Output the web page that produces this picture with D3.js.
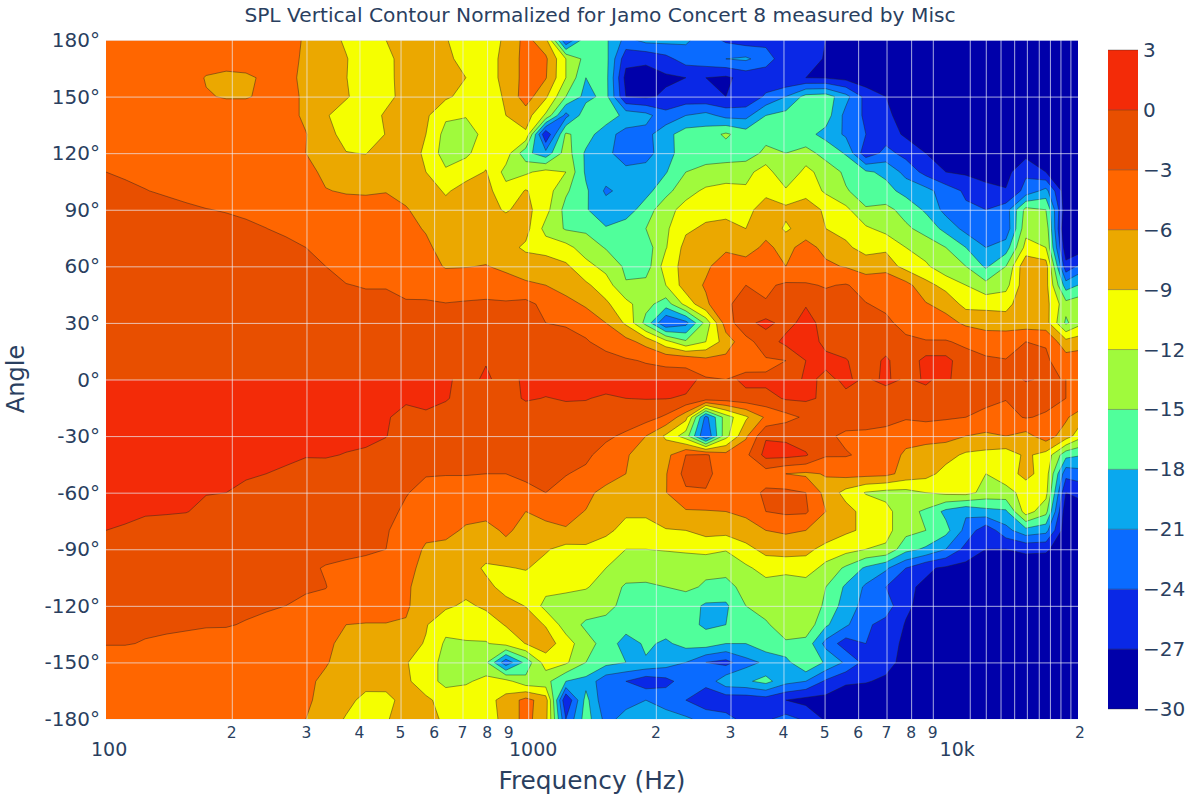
<!DOCTYPE html>
<html>
<meta charset="utf-8">
<title>SPL Vertical Contour</title>
<style>
body { margin: 0; background: #fff; }
text { font-family: "DejaVu Sans", Verdana, sans-serif; fill: #2a3f5f; }
.grid line { stroke: #ebf0f8; stroke-opacity: 0.7; stroke-width: 1px; }
.grid .domain { display: none; }
.band { stroke: #222; stroke-opacity: 0.75; stroke-width: 0.6px; fill-rule: evenodd; }
</style>
<script src="https://d3js.org/d3.v7.min.js"></script>
<body>
<script>
const title = "SPL Vertical Contour Normalized for Jamo Concert 8 measured by Misc";

// sampled frequencies (columns of both tables below)
const freqs = [101,112,125,140,156,174,194,216,241,268,299,333,372,414,462,515,574,639,713,795,886,987,1100,1227,1368,1525,1700,1895,2112,2354,2624,2926,3261,3635,4052,4517,5035,5613,6257,6975,7775,8667,9662,10771,12006,13384,14920,16632,18540,20667];

const anglesUpper = [180,170,160,150,140,130,120,110,100,90,80,70,60,50,40,30,20,10,0];
const anglesLower = [0,-10,-20,-30,-40,-50,-60,-70,-80,-90,-100,-110,-120,-130,-140,-150,-160,-170,-180];

// dB, one row per angle
const splUpper = [
[-4.5,-4.5,-4.5,-4.5,-4.5,-4.5,-4.5,-4.5,-4.5,-5,-6.3,-7.5,-9.5,-11,-9,-8,-8,-8.8,-10.5,-10.5,-8.5,-5,-8,-24,-16,-17.5,-22,-20,-20,-20.5,-22.5,-24.5,-25.5,-25,-26,-25.5,-27,-28,-28.5,-29,-29,-29,-29,-29,-29,-29,-29,-29,-29,-29],
[-4.5,-4.5,-4.5,-4.5,-4.5,-4.5,-4.5,-4.5,-4.5,-5,-6.5,-7.5,-8.8,-11,-9.8,-7.8,-8,-8,-10.5,-10.5,-8,-5,-5.5,-12,-16,-17,-26,-26.5,-25,-22.5,-22,-21,-20.5,-22.5,-26,-24.5,-27.5,-28,-29,-29,-29,-29,-29,-29,-29,-29,-29,-29,-29,-29],
[-4.5,-4.5,-4.5,-4.5,-4.5,-6.2,-6.8,-6.5,-5.5,-5.4,-6.5,-7.5,-8.9,-11,-9.7,-8,-8,-7.5,-9,-10.5,-8,-5,-5.8,-12,-18,-17,-28,-28,-27.5,-27,-27,-27.5,-26,-26,-27,-27,-27.2,-28,-29,-29,-29,-29,-29,-29,-29,-29,-29,-29,-29,-29],
[-4.5,-4.5,-4.5,-4.5,-4.5,-5.8,-6.2,-6.2,-5.5,-5.2,-6.4,-7.5,-8.7,-10.5,-10,-7.8,-7,-8.5,-10,-11,-8.5,-4.5,-8.5,-15,-19,-17,-27,-27.5,-26.5,-26,-26.5,-27,-26.5,-23.5,-21,-17,-16.5,-20,-25,-27,-28.5,-28.5,-28.5,-28.5,-28.5,-28.5,-28.5,-28.5,-28.5,-28.5],
[-4.5,-4.5,-4.5,-4.5,-4.5,-4.5,-4.5,-4.5,-4.5,-5,-6.5,-8.7,-10.5,-10.8,-8.5,-7.5,-8.5,-11.5,-11.8,-11,-9,-7.5,-12.5,-22,-16,-16,-19,-20,-23,-21,-20,-22,-22,-18,-17,-16,-16.5,-22,-24.5,-26.5,-28,-28.5,-28.5,-28.5,-28.5,-28.5,-28.5,-28.5,-28.5,-28.5],
[-4.5,-4.5,-4.5,-4.5,-4.5,-4.5,-4.5,-4.5,-4.5,-5,-5.9,-8,-10,-10.5,-8.9,-7.7,-9,-13,-13.5,-11,-10.5,-9.5,-27,-14.5,-16.5,-20,-22,-22,-19,-16.5,-16.5,-14.5,-16.5,-16,-17,-17,-19,-21.5,-24,-25.5,-27.5,-28,-28,-28,-28,-28,-28,-28,-28,-28],
[-3.8,-4,-4.2,-4.5,-4.5,-4.5,-4.5,-4.5,-4.5,-5,-6,-8,-8.9,-9.1,-7.5,-7.5,-9.5,-13.5,-12.5,-10.5,-10.5,-17,-20,-13.5,-18.5,-20,-23,-22,-19.5,-16,-16.5,-16.5,-16.5,-14.3,-15,-14,-16,-18.3,-26,-23,-25,-27,-27.5,-28,-28,-28,-28,-28,-28,-28],
[-3,-3.2,-3.4,-3.6,-3.8,-4,-4.2,-4.4,-4.6,-5,-5.3,-6.5,-7,-7.2,-7.2,-7.5,-9,-11.5,-10.5,-8.8,-13,-12.5,-11,-12,-18.5,-19.5,-20,-20,-18.2,-15,-14,-13.5,-13,-10.5,-14.8,-11,-13.5,-15.5,-17.5,-18.7,-22,-25,-27,-27.5,-27.6,-28,-24.5,-27,-28.5,-29],
[-2.5,-2.7,-2.95,-3.2,-3.5,-3.7,-3.9,-4.2,-4.5,-4.8,-5.1,-5.9,-6.2,-6.3,-6.1,-6.8,-7,-9.5,-7.5,-8,-11,-8.8,-10.5,-14.5,-17.5,-21.5,-20,-19,-16,-13,-11.5,-11,-11.5,-10,-11.5,-10,-12.5,-14.8,-16,-17,-19,-20,-22.5,-24.5,-26.5,-26.8,-23,-20,-29,-29],
[-2.2,-2.3,-2.4,-2.5,-2.7,-2.95,-3.1,-3.3,-3.5,-3.7,-4,-4.5,-5,-5,-5.1,-5.8,-7,-7.5,-7.5,-8,-9.3,-8,-11,-16,-17.8,-19.5,-19.5,-16.5,-13,-11,-10,-10,-10.2,-7.2,-8.2,-7.5,-9.5,-11.2,-14.8,-14.2,-16,-18.5,-22,-23.5,-24,-22.5,-14,-15,-29,-29],
[-2,-2,-2,-2,-2.1,-2.2,-2.5,-2.7,-2.98,-3.3,-3.8,-4,-4.3,-4.3,-4.5,-5.3,-6.2,-7.5,-7.5,-7.5,-7.5,-8,-13,-15.3,-15.5,-17.8,-16.5,-15,-12.5,-9.5,-8.5,-8,-9,-6.8,-9.5,-7.5,-9,-9.8,-11.5,-13,-14.5,-16,-19,-22,-23,-23,-13,-13,-31,-30],
[-1.8,-1.8,-1.8,-1.8,-1.8,-1.9,-2,-2.1,-2.3,-2.6,-3,-3.6,-4,-4,-4.2,-5,-5.5,-7,-7,-7,-8,-9.5,-10.5,-11,-13.5,-15.2,-16.5,-16.5,-12.2,-8,-7,-6.5,-7,-5.5,-6.8,-5,-6.8,-8.5,-10,-9.5,-12,-13.5,-15,-18,-21,-19.5,-11,-12,-29,-28],
[-1.7,-1.7,-1.7,-1.7,-1.7,-1.8,-1.8,-1.9,-2.1,-2.3,-2.6,-3,-3.5,-3.6,-3.6,-4.2,-5,-6.2,-6.1,-5.9,-6.5,-7.5,-7,-8.5,-11,-13,-15.5,-16.5,-10.5,-8,-6.5,-4.5,-5,-4.5,-6,-5,-5.5,-6.2,-7.5,-7.5,-10,-11.5,-14,-15,-18.5,-15,-6.5,-7.5,-26,-22],
[-1.6,-1.6,-1.6,-1.6,-1.6,-1.6,-1.7,-1.8,-1.9,-2,-2.2,-2.6,-2.95,-3.1,-3.1,-3.6,-4,-4.5,-4.5,-4.5,-5,-5.5,-6,-7.5,-8.5,-10.5,-14.8,-14,-12,-7.5,-5.7,-3.5,-3,-3.5,-2.5,-2.7,-3.2,-2.8,-4,-3,-5,-8,-10,-12,-14,-13,-7,-8,-19.5,-17],
[-1.5,-1.5,-1.5,-1.5,-1.5,-1.5,-1.5,-1.5,-1.6,-1.7,-1.9,-2.1,-2.3,-2.6,-2.6,-2.8,-2.7,-2.9,-2.7,-2.5,-2.6,-2.2,-3.8,-4.8,-6.5,-8.5,-11,-14,-16.5,-11,-6.5,-3.5,-1.8,-2.8,-2,-0.2,-2,-2.4,-2.9,-3.5,-4.5,-5.8,-7,-10,-10,-10,-7,-8,-14,-13],
[-1.5,-1.5,-1.5,-1.5,-1.5,-1.5,-1.5,-1.5,-1.5,-1.5,-1.6,-1.7,-1.8,-2,-2,-2,-1.5,-1.5,-1.5,-1.2,-1.5,-2,-3,-3.2,-3.8,-6,-9.5,-16,-24,-22,-14,-4.5,-0.8,0.8,-1,1,-1,-0.5,-2,-2.5,-3.8,-4.8,-5,-6.5,-7,-7.5,-7.5,-7.8,-15.5,-12],
[-1.5,-1.5,-1.5,-1.5,-1.5,-1.5,-1.5,-1.5,-1.5,-1.5,-1.5,-1.5,-1.5,-1.5,-1.5,-1.5,-1.5,-1.5,-1.5,-1,-1.2,-1.5,-2,-2.3,-2.8,-3.8,-5,-7,-11,-14.5,-12,-7.5,-4,-1.5,0.8,1,-0.5,-1.5,-2,-1.5,-2.5,-2.8,-2.8,-3.5,-4.5,-4,-3,-3.2,-8,-7],
[-1.5,-1.5,-1.5,-1.5,-1.5,-1.5,-1.5,-1.5,-1.5,-1.5,-1.5,-1.5,-1.5,-1.5,-1.5,-1.5,-1.5,-1.4,-1,-0.2,-1.5,-1.8,-1.8,-1.9,-2,-2.2,-2.7,-3.2,-3.5,-3.5,-5,-5.2,-3.8,-3.3,-3,0,0.5,0.2,-1.5,0.5,-2,1,1,-2,-2.5,-2.9,-1,-2.6,-4.5,-4.5],
[-1.5,-1.5,-1.5,-1.5,-1.5,-1.5,-1.5,-1.5,-1.5,-1.5,-1.5,-1.5,-1.5,-1.5,-1.5,-1.5,-1.5,-1.3,-1,0.5,-1.2,-1.5,-1.5,-1.5,-1.5,-1.5,-1.6,-1.8,-2,-2.2,-2.7,-3,-2.5,-2.8,-1.8,0.5,-0.5,0.5,-1,0.5,-1.5,0.5,0.5,-1.5,-1.5,-1.5,0,-1.5,-3.5,-3.5]
];
const splLower = [
[1.5,1.5,1.5,1.5,1.5,1.5,1.5,1.5,1.5,1.5,1.5,1.5,1.5,1.5,1.5,1.5,1,0.5,-1,-0.5,-1,0.5,1,1,1,1,1,1,1,1,-0.8,-1,0.8,0.8,1,1,-0.8,0.5,-0.2,0.5,-0.2,0.5,-1,-1,-1,-1,0.2,-0.3,-3,-3.5],
[1.3,1.3,1.3,1.3,1.3,1.3,1.3,1.3,1.3,1.3,1.3,1.3,1.3,1.3,1.3,0.5,0.8,0.3,-1.3,-1.3,-1,0.3,-0.1,0.2,0.1,-0.3,0,0.1,0.1,-0.3,-1.3,-1.5,-1,-1,0.3,0.5,-0.5,-0.5,-1,-1,-1,-1.2,-1.5,-1.8,-2,-2.9,-1.5,-2,-3,-3.7],
[1,1,1,1,1,1,1,1,1,1,1,1,1,0.8,0.3,-1,-0.5,-1.5,-1.7,-1.7,-1.7,-1.7,-1.7,-1,-0.8,-1,-1.5,-1.8,-3.5,-8,-22,-13.5,-9.5,-5.5,-4,-2.5,-1.5,-1.7,-2,-2.2,-2.7,-2.3,-2.7,-3,-4,-3.8,-2.8,-3.4,-5.5,-9],
[0.8,0.8,0.8,0.8,0.8,0.8,0.8,0.8,0.8,0.8,0.8,0.4,0.6,0.6,0.1,-1.5,-1.8,-2,-2,-2,-2,-2,-2,-2,-2.2,-2.5,-3.5,-6,-9.5,-13.5,-24,-13,-6.5,-0.3,-0.5,-1.5,-2.5,-3.5,-3.5,-3.8,-5,-5.2,-5,-6,-6.5,-6,-7,-4.5,-7.5,-12],
[0.8,1,1,1,1,1,1,1,1,0.4,0.1,0.2,-0.1,-0.4,-1.2,-2,-2.2,-2.4,-2.4,-2.4,-2.4,-2.4,-2.4,-2.4,-2.5,-4,-5.8,-7,-7,-3,-2.6,-5,-3.7,1,1,0.3,-2.7,-2.8,-3.5,-4.5,-6.5,-7,-8,-9.5,-9.9,-10.5,-8.5,-10,-17,-18],
[0.8,0.8,0.7,0.6,0.4,0.3,0.25,0.2,0,-0.3,-0.6,-1,-1.2,-1.4,-1.7,-2.5,-2.9,-2.9,-2.9,-3,-3,-2.4,-2.2,-2.9,-3.5,-4.5,-6,-7,-6.2,-2,-2,-5,-5,-4.5,-6,-6.5,-5.8,-5,-5,-5.2,-7,-8,-10,-10.5,-12,-10.5,-8,-10.5,-23,-22],
[0.5,0.4,0.3,0.2,0.1,0.05,0,-0.4,-0.7,-1,-1.3,-1.4,-1.5,-1.6,-2,-2.9,-3.5,-4,-4,-4.3,-4.2,-3.8,-3,-3.8,-5.2,-7,-7.5,-7.8,-6.1,-3.5,-3.3,-5,-4.3,-2.5,-2.3,-3,-7,-10,-12.2,-13,-13,-12,-11.3,-11,-13,-13,-11,-11,-27,-26],
[0.3,0.2,0.1,0.1,0.05,-0.3,-0.6,-0.8,-1,-1.1,-1.2,-1.3,-1.5,-1.8,-2.5,-3.3,-5,-4.5,-4.8,-5,-5,-6,-5,-5.2,-6.1,-8,-8.5,-8.5,-7,-6.3,-6.2,-6,-5.5,-3,-2.5,-2.6,-6,-8,-10,-11,-14,-15.5,-18.8,-20.5,-19,-18.5,-10.5,-14,-29,-28],
[0,-0.1,-0.3,-0.5,-0.7,-0.9,-1,-1.1,-1.2,-1.3,-1.4,-1.5,-1.7,-2,-2.7,-4.5,-5,-5,-6.5,-7,-5.5,-7,-7,-6.2,-7.5,-8.3,-10,-10,-9.2,-9,-8,-8,-7,-6,-5.5,-6,-7,-8.5,-9.5,-11,-14,-15,-17,-22,-26,-22,-19,-20,-29,-29],
[-1.3,-1.3,-1.3,-1.3,-1.3,-1.3,-1.3,-1.3,-1.3,-1.3,-1.3,-1.5,-2,-2.5,-3,-4,-6.5,-7,-7.2,-7.5,-7,-7.5,-8.7,-10,-9.5,-10.5,-12,-12,-11.8,-11.5,-11,-11.8,-10,-8,-8,-8.2,-10,-11,-12,-12.5,-17,-18.5,-21,-25,-27,-27,-26.5,-26.5,-29,-29],
[-1.3,-1.3,-1.3,-1.3,-1.3,-1.3,-1.3,-1.3,-1.3,-1.7,-2.2,-3.3,-3.8,-4,-4,-5,-7,-7.5,-7.5,-9.5,-9.2,-8.8,-10,-10.5,-11,-12,-13,-13.5,-13.8,-14,-14.5,-14,-12.5,-11,-10.5,-10.5,-13,-15.5,-18.5,-20.5,-24,-26.5,-27.5,-28,-28.5,-28.5,-28.5,-29,-29,-29],
[-1.5,-1.5,-1.6,-1.6,-1.7,-1.7,-1.7,-1.8,-1.8,-2,-2.7,-2.9,-4.5,-4.5,-4.5,-5.5,-7.5,-7.8,-8,-8.2,-10,-10.5,-11,-11.3,-11.8,-13,-15.5,-15.5,-15,-14.5,-15.3,-16,-14,-13,-14.8,-13.5,-15,-18.5,-21.5,-24,-26.5,-27.5,-28,-28.5,-28.5,-29,-29,-29,-29,-29],
[-1.8,-2,-2.1,-2.2,-2.3,-2.3,-2.5,-2.7,-2.8,-3,-3.5,-4,-4.5,-5,-5,-5.5,-8,-8.5,-9.5,-8.5,-8,-9.1,-13,-13.5,-13.5,-14,-16,-16,-18,-16.5,-18.5,-18.5,-15,-13.5,-13.5,-13,-15.5,-19.5,-22,-22.5,-26.5,-28,-28.5,-28.5,-29,-29,-29,-29,-29,-29],
[-2.3,-2.5,-2.7,-2.8,-2.8,-2.9,-2.9,-3.1,-3.4,-3.8,-4.3,-5,-6,-6.1,-6.1,-6.3,-8.8,-11,-11,-10.5,-8.8,-7.5,-9.2,-13.5,-15.5,-16,-16.5,-16.5,-16.5,-17,-18.5,-18,-16,-15.5,-13,-13,-17.5,-20.5,-23.5,-25,-27.2,-29,-29,-29,-29,-29,-29,-29,-29,-29],
[-2.9,-2.9,-3.1,-3.2,-3.4,-3.5,-3.6,-3.8,-4,-4.3,-5,-5.5,-6.7,-7.5,-7.5,-8,-9.2,-12.5,-12.2,-12.2,-11,-8.9,-7.5,-10.5,-14,-16,-19.5,-17.5,-18.5,-17,-16.5,-18,-18,-16,-15.5,-16,-22,-25.5,-24,-26,-27.5,-29,-29,-29,-29,-29,-29,-29,-29,-29],
[-4,-4,-4.1,-4.1,-4.2,-4.2,-4.3,-4.4,-4.5,-4.8,-5.3,-5.8,-7,-7.5,-7.5,-8.8,-10.5,-13,-13.5,-14.5,-23,-17,-10.5,-11.5,-15,-17,-18,-18.3,-19.5,-21,-24,-25,-22,-20.5,-19,-15,-18.5,-21.5,-25,-26,-28,-29,-29,-29,-29,-29,-29,-29,-29,-29],
[-4.5,-4.5,-4.5,-4.5,-4.5,-4.5,-4.5,-4.5,-4.5,-5,-5.5,-6.5,-7.5,-7.8,-8,-8.5,-10.5,-13,-12.5,-11,-11,-14,-14,-18,-19,-23,-24,-26,-25,-22.5,-23,-19,-18.5,-17,-20,-21,-24.5,-26.5,-26.8,-27.5,-29,-29,-29,-29,-29,-29,-29,-29,-29,-29],
[-4.5,-4.5,-4.5,-4.5,-4.5,-4.5,-4.5,-4.5,-4.5,-4.5,-5.5,-7,-8,-10,-9.8,-8,-8.5,-10,-9.8,-10,-8,-5,-7.5,-27,-17,-23.5,-22,-21,-22,-24,-26,-26,-26,-25.5,-27,-28,-28,-29,-29,-29,-29,-29,-29,-29,-29,-29,-29,-29,-29,-29],
[-4.5,-4.5,-4.5,-4.5,-4.5,-4.5,-4.5,-4.5,-4.5,-5,-6,-7,-9.3,-10.5,-9.2,-8,-8,-9.5,-10.5,-10.5,-8,-5,-8,-24,-16.5,-22,-20,-20,-20,-20.5,-22,-23,-25,-24.5,-23,-24.5,-27.5,-29,-29,-29,-29,-29,-29,-29,-29,-29,-29,-29,-29,-29]
];

const levels = [-30,-27,-24,-21,-18,-15,-12,-9,-6,-3,0,3];
const bandColors = ["#0000aa","#0a28e6","#0a6bff","#0aa8ee","#50ff9b","#a0fa3c","#f5ff00","#eba800","#ff6600","#e84f00","#f32b08"];

const angleTicks = [180,150,120,90,60,30,0,-30,-60,-90,-120,-150,-180];
const gridFreqs = [200,300,400,500,600,700,800,1000,2000,3000,4000,5000,6000,7000,8000,9000,11000,12000,13000,14000,15000,16000,17000,18000,19000];
const minorLabelFreqs = [200,300,400,500,600,700,800,900,2000,3000,4000,5000,6000,7000,8000,9000,20000];
const majorLabels = [[100,"100"],[1000,"1000"],[10000,"10k"]];

const plot = {left: 106, right: 1078, top: 40, bottom: 719};
const svg = d3.select("body").append("svg").attr("width", 1200).attr("height", 800);

const x = d3.scaleLog().domain([101, 19800]).range([plot.left, plot.right]);
const y = d3.scaleLinear().domain([180, -180]).range([plot.top, plot.bottom]);

const defs = svg.append("defs");
function drawHalf(id, rows, angles) {
  const top = y(angles[0]), bottom = y(angles[angles.length - 1]);
  defs.append("clipPath").attr("id", id).append("rect")
    .attr("x", plot.left).attr("y", top)
    .attr("width", plot.right - plot.left).attr("height", bottom - top);

  // grid index -> page position, d3.contours puts sample i at i + 0.5
  const colX = d3.scaleLinear().domain(d3.range(freqs.length)).range(freqs.map(f => x(f)));
  const rowY = d3.scaleLinear().domain(d3.range(angles.length)).range(angles.map(a => y(a)));
  const path = d3.geoPath(d3.geoTransform({
    point(px, py) { this.stream.point(colX(px - 0.5), rowY(py - 0.5)); }
  }));

  const g = svg.append("g").attr("clip-path", `url(#${id})`);
  g.append("rect")
    .attr("x", plot.left).attr("y", top)
    .attr("width", plot.right - plot.left).attr("height", bottom - top)
    .attr("fill", bandColors[0]);

  const contours = d3.contours()
    .size([freqs.length, angles.length])
    .thresholds(levels.slice(1, -1))(rows.flat());
  g.selectAll("path").data(contours).join("path")
    .attr("class", "band")
    .attr("d", path)
    .attr("fill", d => bandColors[levels.indexOf(d.value)]);
}
drawHalf("clip-upper", splUpper, anglesUpper);
drawHalf("clip-lower", splLower, anglesLower);

// grid lines sit on top of the contours
svg.append("g").attr("class", "grid")
  .attr("transform", `translate(${plot.left},0)`)
  .call(d3.axisLeft(y).tickValues(angleTicks).tickSize(-(plot.right - plot.left)).tickFormat(""));
svg.append("g").attr("class", "grid")
  .attr("transform", `translate(0,${plot.bottom})`)
  .call(d3.axisBottom(x).tickValues(gridFreqs).tickSize(-(plot.bottom - plot.top)).tickFormat(""));

svg.append("g").selectAll("text").data(angleTicks).join("text")
  .attr("x", 100).attr("y", d => y(d) + 7)
  .attr("text-anchor", "end").style("font-size", "20px")
  .text(d => d + "°");

svg.append("g").selectAll("text").data(minorLabelFreqs).join("text")
  .attr("x", d => x(d)).attr("y", 738)
  .attr("text-anchor", "middle").style("font-size", "15.5px")
  .text(d => String(d).charAt(0));

svg.append("g").selectAll("text").data(majorLabels).join("text")
  .attr("x", d => x(d[0]) + 5).attr("y", 756)
  .attr("text-anchor", "middle").style("font-size", "19px")
  .text(d => d[1]);

svg.append("text").attr("x", 600).attr("y", 22)
  .attr("text-anchor", "middle").style("font-size", "20.2px").text(title);
svg.append("text").attr("x", 592).attr("y", 789)
  .attr("text-anchor", "middle").style("font-size", "24.8px").text("Frequency (Hz)");
svg.append("text").attr("transform", "translate(24,379) rotate(-90)")
  .attr("text-anchor", "middle").style("font-size", "24px").text("Angle");

// colour bar
const cbar = d3.scaleLinear().domain([-30, 3]).range([709, 50]);
const bar = svg.append("g");
bar.selectAll("rect").data(bandColors).join("rect")
  .attr("x", 1108).attr("width", 30)
  .attr("y", (d, i) => cbar(levels[i + 1]))
  .attr("height", (d, i) => cbar(levels[i]) - cbar(levels[i + 1]))
  .attr("fill", d => d);
bar.selectAll("line").data(levels).join("line")
  .attr("x1", 1108).attr("x2", 1138)
  .attr("y1", d => cbar(d)).attr("y2", d => cbar(d))
  .attr("stroke", "#222").attr("stroke-opacity", 0.6).attr("stroke-width", 0.6);
bar.selectAll("text").data(levels).join("text")
  .attr("x", 1143).attr("y", d => cbar(d) + 7)
  .style("font-size", "20px")
  .text(d => d < 0 ? "\u2212" + Math.abs(d) : d);
</script>
</body>
</html>
